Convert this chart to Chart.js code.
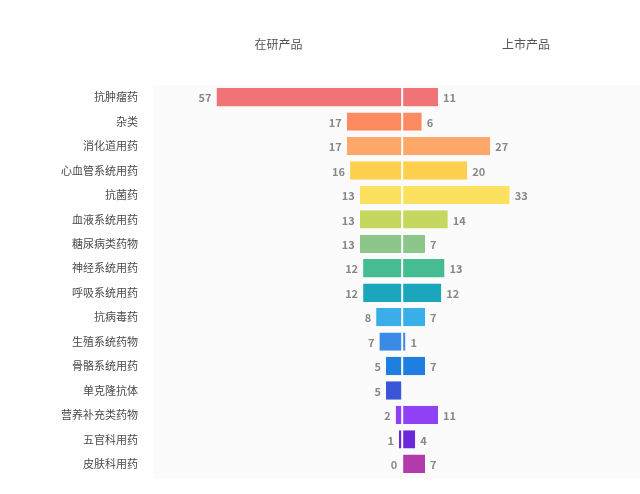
<!DOCTYPE html>
<html>
<head>
<meta charset="utf-8">
<script src="https://cdn.jsdelivr.net/npm/chart.js@4/dist/chart.umd.min.js"></script>
<style>
  html, body { margin: 0; padding: 0; background: #fff; }
  #wrap { width: 640px; height: 494px; position: relative; }
</style>
</head>
<body>
<div id="wrap"><canvas id="drugChart"></canvas></div>
<script>
// 类别和两组数值
const categories = ['抗肿瘤药', '杂类', '消化道用药', '心血管系统用药', '抗菌药', '血液系统用药',
  '糖尿病类药物', '神经系统用药', '呼吸系统用药', '抗病毒药', '生殖系统药物', '骨骼系统用药',
  '单克隆抗体', '营养补充类药物', '五官科用药', '皮肤科用药'];
const researchProducts = [57, 17, 17, 16, 13, 13, 13, 12, 12, 8, 7, 5, 5, 2, 1, 0];
const marketProducts = [11, 6, 27, 20, 33, 14, 7, 13, 12, 7, 1, 7, null, 11, 4, 7];
const barColors = ['#f07378', '#fd8a60', '#fda868', '#fdd04f', '#fce05f', '#c6d75f',
  '#8cc68a', '#45bc91', '#1ba6bc', '#3aaee8', '#3a8ae6', '#1f7fe0',
  '#3b55d8', '#9040f5', '#6a28d8', '#b23aaa'];
const seriesNames = ['在研产品', '上市产品'];

const fontFamily = '"Noto Sans CJK SC", "Noto Sans", sans-serif';

// 画图区背景
const bgPlugin = {
  id: 'bg',
  beforeDraw(chart) {
    const a = chart.chartArea, ctx = chart.ctx;
    ctx.save();
    ctx.fillStyle = '#fbfbfb';
    ctx.fillRect(a.left, a.top, a.right - a.left, a.bottom - a.top + 2);
    ctx.restore();
  }
};

// 顶部标题 + 数值标签
const labelPlugin = {
  id: 'labels',
  afterDatasetsDraw(chart) {
    const ctx = chart.ctx;
    const a = chart.chartArea;
    const zero = chart.scales.x.getPixelForValue(0);
    ctx.save();
    ctx.fillStyle = '#555';
    ctx.font = '12px ' + fontFamily;
    ctx.textAlign = 'center';
    ctx.textBaseline = 'middle';
    ctx.fillText(seriesNames[0], (a.left + zero) / 2 + 1, 44);
    ctx.fillText(seriesNames[1], (zero + a.right) / 2 + 5, 44);

    ctx.font = 'bold 11px ' + fontFamily;
    ctx.fillStyle = '#888';
    chart.data.datasets.forEach(function(ds, di) {
      const meta = chart.getDatasetMeta(di);
      const raw = di === 0 ? researchProducts : marketProducts;
      meta.data.forEach(function(bar, i) {
        if (raw[i] === null) return;
        if (di === 0) {
          ctx.textAlign = 'right';
          ctx.fillText(raw[i], bar.x - 5, bar.y + 1);
        } else {
          ctx.textAlign = 'left';
          ctx.fillText(raw[i], bar.x + 5, bar.y + 1);
        }
      });
    });
    ctx.restore();
  }
};

new Chart(document.getElementById('drugChart'), {
  type: 'bar',
  data: {
    labels: categories,
    datasets: [{
      label: seriesNames[0],
      data: researchProducts.map(v => -v),
      backgroundColor: barColors,
      borderColor: '#ffffff',
      borderWidth: { left: 0, right: 1, top: 0, bottom: 0 },
      borderSkipped: false,
      barPercentage: 0.75,
      categoryPercentage: 1
    }, {
      label: seriesNames[1],
      data: marketProducts,
      backgroundColor: barColors,
      borderColor: '#ffffff',
      borderWidth: { left: 1, right: 0, top: 0, bottom: 0 },
      borderSkipped: false,
      barPercentage: 0.75,
      categoryPercentage: 1
    }]
  },
  options: {
    indexAxis: 'y',
    responsive: true,
    maintainAspectRatio: false,
    animation: false,
    layout: { padding: { top: 85, bottom: 18, left: 0, right: 0 } },
    plugins: {
      legend: { display: false },
      tooltip: { enabled: false }
    },
    scales: {
      x: {
        stacked: true,
        min: -76.5,
        max: 73,
        display: false
      },
      y: {
        stacked: true,
        grid: { display: false, drawTicks: false },
        border: { display: false },
        afterFit: function(axis) {
          axis.width = 153;
          // 标签的padding不要撑开上下边距
          axis.paddingTop = 0;
          axis.paddingBottom = 0;
        },
        ticks: {
          padding: 15,
          color: '#4a4a4a',
          font: { size: 11, family: fontFamily }
        }
      }
    }
  },
  plugins: [bgPlugin, labelPlugin]
});
</script>
</body>
</html>
